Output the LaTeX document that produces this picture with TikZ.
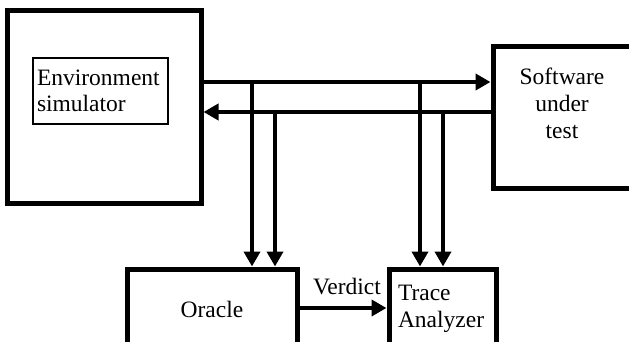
\documentclass[tikz,border=0pt]{standalone}
\usepackage{fontspec}
\setmainfont{Liberation Serif}
\usetikzlibrary{arrows.meta}
\begin{document}
\begin{tikzpicture}[x=1pt,y=-1pt,
  blk/.style={draw,line width=5pt,inner sep=0pt,
    font=\fontsize{23.5}{27}\selectfont},
  inbox/.style={draw,line width=1.5pt,inner sep=0pt,
    font=\fontsize{23.5}{25.5}\selectfont},
  txt/.style={inner sep=0pt,font=\fontsize{23.5}{27}\selectfont},
  conn/.style={line width=4pt},
  arr/.style={conn,-{Triangle[length=15pt,width=16pt]}}]
\useasboundingbox (0,0) rectangle (629,342);
\clip (0,0) rectangle (629,342);

% main blocks
\node[blk,minimum width=194pt,minimum height=192pt] (env) at (104,107) {};
\node[inbox,minimum width=135pt,minimum height=66pt,text width=127pt,align=left]
  (envt) at (100.5,91) {Environment\\simulator};
\node[blk,minimum width=150pt,minimum height=141pt] (sut) at (568,117.5) {};
\node[txt,align=center] (sutt) at (562,103) {Software\\under\\test};
\node[blk,minimum width=170pt,minimum height=80pt] (oracle) at (212,309) {Oracle};
\node[blk,minimum width=107pt,minimum height=80pt,text width=89pt,align=left]
  (trace) at (442.5,309) {Trace\\Analyzer};

% stimulus and response buses
\draw[arr] (env.east |- 0,82) -- (sut.west |- 0,82);
\draw[arr] (sut.west |- 0,112) -- (env.east |- 0,112);

% taps from the buses to the checkers
\coordinate (o1) at (252,82);
\coordinate (o2) at (275,112);
\coordinate (t1) at (420,82);
\coordinate (t2) at (443,112);
\draw[arr] (o1) -- (o1 |- oracle.north);
\draw[arr] (o2) -- (o2 |- oracle.north);
\draw[arr] (t1) -- (t1 |- trace.north);
\draw[arr] (t2) -- (t2 |- trace.north);

% verdict
\draw[arr] (oracle.east |- 0,308) -- (trace.west |- 0,308);
\node[txt] (verdict) at (347,287) {Verdict};
\end{tikzpicture}
\end{document}
